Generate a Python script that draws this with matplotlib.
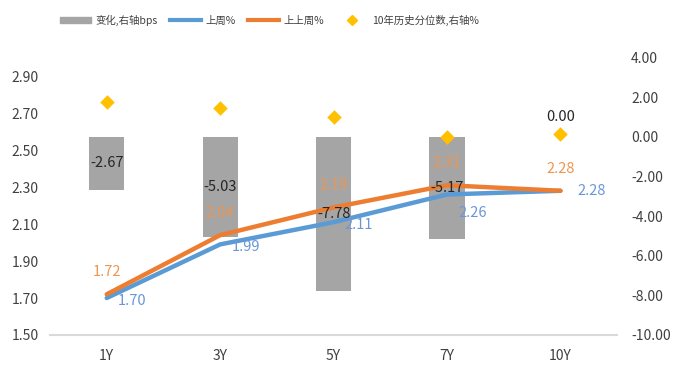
import numpy as np
import matplotlib.pyplot as plt
from matplotlib.lines import Line2D
from matplotlib.patches import Patch

plt.rcParams['font.family'] = ['Noto Sans CJK SC', 'DejaVu Sans']

tenors = ["1Y", "3Y", "5Y", "7Y", "10Y"]
chg_bps = [-2.67, -5.03, -7.78, -5.17, 0.00]
last_week = [1.70, 1.99, 2.11, 2.26, 2.28]
prev_week = [1.72, 2.04, 2.19, 2.31, 2.28]
pctile = [1.78, 1.47, 1.00, 0.00, 0.15]

gray = "#A5A5A5"
blue = "#5B9BD5"
orange = "#ED7D31"
gold = "#FFC000"
tc = "#404040"

x = np.arange(len(tenors))

fig = plt.figure(figsize=(6.73, 3.72), dpi=100)
ax = fig.add_axes([0.0743, 0.0995, 0.8427, 0.7455])
ax2 = ax.twinx()

# bars + diamonds on right axis
ax2.bar(x, chg_bps, width=0.31, color=gray, zorder=1)
ax2.scatter(x, pctile, marker="D", s=55, color=gold, zorder=3, linewidths=0)
ax2.set_ylim(-10, 4)
ax2.set_yticks(np.arange(-10, 4.1, 2))
ax2.set_yticklabels([f"{t:.2f}" for t in np.arange(-10, 4.1, 2)])

# lines on left axis
ax.set_zorder(ax2.get_zorder() + 1)
ax.patch.set_visible(False)
ax.plot(x, last_week, color=blue, lw=3.2, solid_capstyle="round", zorder=3)
ax.plot(x, prev_week, color=orange, lw=3.2, solid_capstyle="round", zorder=4)

# bar labels drawn on top axes so they sit above the lines
for i, v in enumerate(chg_bps):
    if v == 0:
        ax.annotate(f"{v:.2f}", (x[i], 0), xycoords=ax2.transData, xytext=(0, 14),
                    textcoords="offset points", ha="center", va="center",
                    fontsize=10.5, color="#262626", zorder=6)
    else:
        ax.text(x[i], v / 2, f"{v:.2f}", transform=ax2.transData, ha="center",
                va="center", fontsize=10.5, color="#262626", zorder=6)

blue_off = [(8, -2), (8, -2), (8, -2), (8, -13), (12, 0)]
for i, v in enumerate(last_week):
    ax.annotate(f"{v:.2f}", (x[i], v), xytext=blue_off[i], textcoords="offset points",
                ha="left", va="center", fontsize=10.5, color="#6A96D8")
for i, v in enumerate(prev_week):
    ax.annotate(f"{v:.2f}", (x[i], v), xytext=(0, 16), textcoords="offset points",
                ha="center", va="center", fontsize=10.5, color="#EE9550")

ax.set_ylim(1.5, 3.0)
ax.set_yticks(np.arange(1.5, 2.95, 0.2))
ax.set_yticklabels([f"{t:.2f}" for t in np.arange(1.5, 2.95, 0.2)])
ax.set_xlim(-0.5, 4.5)
ax.set_xticks(x)
ax.set_xticklabels(tenors)

for a in (ax, ax2):
    for s in a.spines.values():
        s.set_visible(False)
    a.tick_params(length=0, labelsize=10, labelcolor=tc)
ax.spines["bottom"].set_visible(True)
ax.spines["bottom"].set_color("#D9D9D9")
ax.spines["bottom"].set_linewidth(1.5)
ax.tick_params(axis="y", pad=8)
ax.tick_params(axis="x", pad=10)
ax2.tick_params(axis="y", pad=10)

handles = [Patch(color=gray),
           Line2D([], [], color=blue, lw=3),
           Line2D([], [], color=orange, lw=3),
           Line2D([], [], color=gold, marker="D", ls="none", markersize=5)]
labels = ["变化,右轴bps", "上周%", "上上周%", "10年历史分位数,右轴%"]
fig.legend(handles, labels, loc="center", bbox_to_anchor=(0.40, 0.946), ncol=4,
           frameon=False, fontsize=7.5, handlelength=3.0, handleheight=0.6,
           columnspacing=1.2, handletextpad=0.4, labelcolor=tc)

fig.savefig("out.png", dpi=100)
